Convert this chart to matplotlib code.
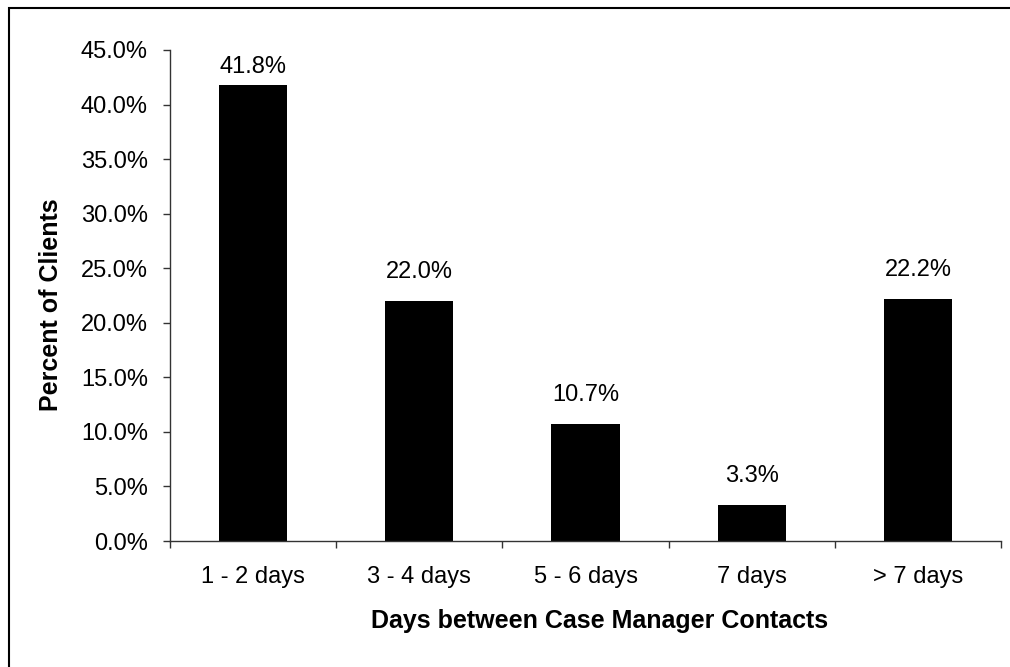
import matplotlib as mpl
import matplotlib.pyplot as plt
from matplotlib.patches import Rectangle
from matplotlib.ticker import FixedLocator, FuncFormatter

mpl.rcParams.update({
    "font.family": ["Liberation Sans", "DejaVu Sans"],
    "font.size": 17,
})

categories = ["1 - 2 days", "3 - 4 days", "5 - 6 days", "7 days", "> 7 days"]
percent_clients = [41.8, 22.0, 10.7, 3.3, 22.2]
y_ticks = [0, 5, 10, 15, 20, 25, 30, 35, 40, 45]

fig = plt.figure(figsize=(10.10, 6.67), dpi=100)
ax = fig.add_axes([170 / 1010, 1 - 541 / 667, 831 / 1010, 491 / 667])

x = list(range(len(categories)))
ax.bar(x, percent_clients, width=0.41, color="black", edgecolor="none")

# value labels sit a fixed gap above each bar, but are kept inside the plot
# area like Excel does (the tallest one gets pushed down a little)
for xi, v in zip(x, percent_clients):
    ax.text(xi, min(v + 2.66, 43.4), f"{v:.1f}%", ha="center", va="center",
            fontsize=17)

ax.set_xlim(-0.5, len(categories) - 0.5)
ax.set_ylim(0, 45)
ax.set_yticks(y_ticks)
ax.yaxis.set_major_formatter(FuncFormatter(lambda v, _: f"{v:.1f}%"))
ax.set_xticks(x)
ax.set_xticklabels(categories)
ax.xaxis.set_minor_locator(FixedLocator([i - 0.5 for i in range(len(categories) + 1)]))

ax.tick_params(axis="x", which="major", length=0, pad=18)
ax.tick_params(axis="x", which="minor", length=5, width=1, direction="out", color="#333333")
ax.tick_params(axis="y", length=5, width=1, direction="out", pad=11, color="#333333")

for side in ("top", "right"):
    ax.spines[side].set_visible(False)
for side in ("left", "bottom"):
    ax.spines[side].set_color("#333333")
    ax.spines[side].set_linewidth(1)

ax.set_xlabel("Days between Case Manager Contacts", fontsize=18, fontweight="bold")
ax.set_ylabel("Percent of Clients", fontsize=18, fontweight="bold")
ax.xaxis.set_label_coords(0.517, -0.1385)
ax.yaxis.set_label_coords(-0.129, 0.482)

# outer chart border (right and bottom edges fall outside the image)
fig.patches.append(Rectangle((9 / 1010, -0.05), 1.2, 1 - 8 / 667 + 0.05,
                             transform=fig.transFigure, fill=False,
                             edgecolor="black", linewidth=1.5))

fig.savefig("out.png", dpi=100)
